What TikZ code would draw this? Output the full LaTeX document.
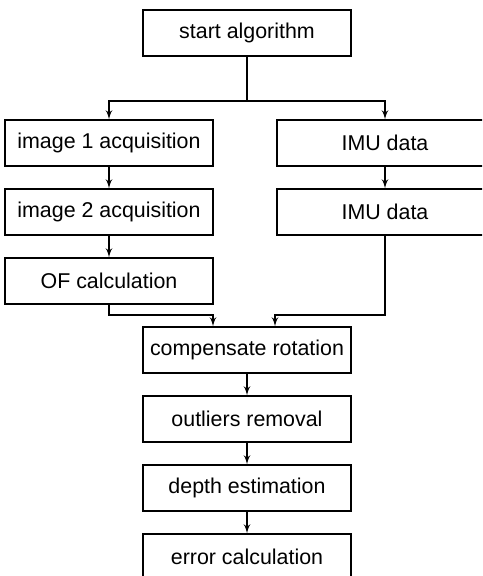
\documentclass[tikz,border=0pt]{standalone}
\usepackage{fontspec}
\setmainfont{Liberation Sans}
\usepackage{tikz}
\usetikzlibrary{arrows,positioning,shapes}
\tikzset{%
	block/.style    = {draw, rectangle, line width=0.6pt, minimum height=23pt, minimum width=104pt, inner sep=2pt, font=\fontsize{10.7pt}{13pt}\selectfont},
	imublock/.style = {block, minimum width=108pt},
	waypoint/.style = {coordinate},
	line/.style     = {line width=0.6pt},
}

\begin{document}
\begin{tikzpicture}[node distance=34.5pt,auto,>=latex']
	\useasboundingbox (-123.5pt,16.5pt) rectangle (117.5pt,-271.5pt);
	\clip (-123.5pt,16.5pt) rectangle (117.5pt,-271.5pt);
	\node [block] (start) {start algorithm};
	\node [waypoint] (split) [below of=start,node distance=34pt] {};
	\node [block] (img1) [below of=start,node distance=55pt,xshift=-69pt] {image 1 acquisition};
	\node [imublock] (imu1) [right of=img1,node distance=138pt] {IMU data};
	\node [block] (img2) [below of=img1] {image 2 acquisition};
	\node [imublock] (imu2) [below of=imu1] {IMU data};
	\node [block] (of) [below of=img2] {OF calculation};
	\node [block] (comp) [below of=of,xshift=69pt] {compensate rotation};
	\node [waypoint] (ml) [above of=comp,node distance=17.5pt,xshift=-17pt] {};
	\node [waypoint] (mr) [above of=comp,node distance=17.5pt,xshift=14pt] {};
	\node [block] (outl) [below of=comp] {outliers removal};
	\node [block] (depth) [below of=outl] {depth estimation};
	\node [block] (err) [below of=depth] {error calculation};
	
	\draw[line] (start) -- (split);
	\draw[line,->] (split) -| (img1);
	\draw[line,->] (split) -| (imu1);
	\draw[line,->] (img1) -- (img2);
	\draw[line,->] (img2) -- (of);
	\draw[line,->] (imu1) -- (imu2);
	\draw[line,->] (of) |- (ml) -- (ml |- comp.north);
	\draw[line,->] (imu2) |- (mr) -- (mr |- comp.north);
	\draw[line,->] (comp) -- (outl);
	\draw[line,->] (outl) -- (depth);
	\draw[line,->] (depth) -- (err);
	
\end{tikzpicture}
\end{document}
